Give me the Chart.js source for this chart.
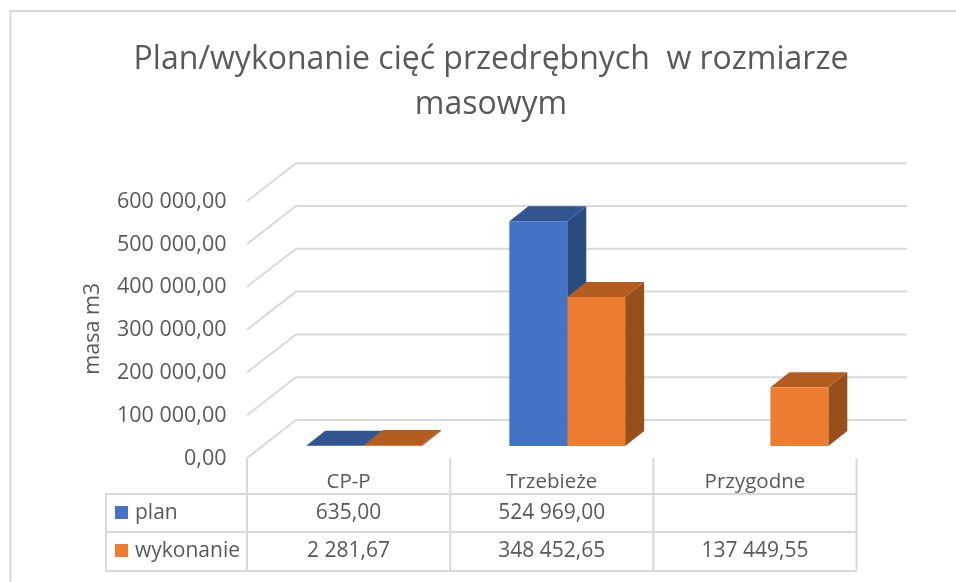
<!DOCTYPE html>
<html><head><meta charset="utf-8">
<style>html,body{margin:0;padding:0;background:#fff}#w{position:relative;width:956px;height:582px}</style>
<script src="https://cdn.jsdelivr.net/npm/chart.js@4"></script>
</head><body><div id="w"><canvas id="c" width="956" height="582"></canvas></div>
<script>
const categories = ['CP-P', 'Trzebieże', 'Przygodne'];
const plan = [635.00, 524969.00, null];
const wykonanie = [2281.67, 348452.65, 137449.55];
const seriesNames = ['plan', 'wykonanie'];
const titleLines = ['Plan/wykonanie cięć przedrębnych  w rozmiarze', 'masowym'];
const axisTitle = 'masa m3    ';
const FONT = '"Open Sans", sans-serif';
const TEXT = '#595959', GRID = '#d9d9d9';
const FACE = ['#4472C4', '#ED7D31'], TOP = ['#325592', '#B35E20'], SIDE = ['#2A4A80', '#974F1B'];
const BAR_DEPTH = [19, 15];          // bar extrusion
const FRONT = [-15.5, 12], BACK = [33.5, -26]; // wall offsets from the bar plane
const TABLE = {left: 106, top: 494, r1: 532, bottom: 571, vtop: 458, rowMid: [513, 551]};

function fmt(v) {
  if (v === null || v === undefined) return '';
  const [i, d] = v.toFixed(2).split('.');
  return i.replace(/\B(?=(\d{3})+(?!\d))/g, ' ') + ',' + d;
}
function line(ctx, x1, y1, x2, y2) { ctx.beginPath(); ctx.moveTo(x1, y1); ctx.lineTo(x2, y2); ctx.stroke(); }
function poly(ctx, pts, color) {
  ctx.fillStyle = color; ctx.beginPath();
  pts.forEach((p, i) => i ? ctx.lineTo(p[0], p[1]) : ctx.moveTo(p[0], p[1]));
  ctx.closePath(); ctx.fill();
}

const frame3d = {
  id: 'frame3d',
  afterLayout(chart) { chart.titleBlock.left = 110; chart.titleBlock.right = 872; },
  beforeDatasetsDraw(chart) {
    const ctx = chart.ctx, y = chart.scales.y, a = chart.chartArea;
    ctx.save();
    ctx.strokeStyle = GRID; ctx.lineWidth = 2;
    ctx.beginPath(); ctx.moveTo(10.5, 582); ctx.lineTo(10.5, 11); ctx.lineTo(956, 11); ctx.stroke();
    y.ticks.forEach(t => {
      const p = y.getPixelForValue(t.value);
      ctx.beginPath();
      ctx.moveTo(a.left + FRONT[0], p + FRONT[1]);
      ctx.lineTo(a.left + BACK[0], p + BACK[1]);
      ctx.lineTo(a.right + BACK[0] + 1.5, p + BACK[1]);
      ctx.stroke();
    });
    chart.data.datasets.forEach((ds, di) => {
      chart.getDatasetMeta(di).data.forEach((b, i) => {
        if (ds.data[i] === null) return;
        const l = b.x - b.width / 2, r = b.x + b.width / 2, t = b.y, bo = b.base;
        const [dx, dy] = BAR_DEPTH;
        poly(ctx, [[r, t], [r + dx, t - dy], [r + dx, bo - dy], [r, bo]], SIDE[di]);
        poly(ctx, [[l, t], [l + dx, t - dy], [r + dx, t - dy], [r, t]], TOP[di]);
      });
    });
    ctx.restore();
  },
  afterDraw(chart) {
    const ctx = chart.ctx, a = chart.chartArea, x = chart.scales.x;
    const T = TABLE, rows = [plan, wykonanie];
    const columns = categories.map((c, i) => x.getPixelForTick(i) + FRONT[0]);
    const step = (a.right - a.left) / categories.length;
    const edges = [a.left + FRONT[0]];
    categories.forEach((c, i) => edges.push(a.left + FRONT[0] + step * (i + 1)));
    ctx.save();
    ctx.strokeStyle = GRID; ctx.lineWidth = 2;
    edges.forEach(e => line(ctx, e, T.vtop, e, T.bottom));
    line(ctx, T.left, T.top, edges[3], T.top);
    line(ctx, T.left, T.r1, edges[3], T.r1);
    line(ctx, T.left, T.bottom, edges[3], T.bottom);
    line(ctx, T.left, T.top - 1, T.left, T.bottom + 1);
    ctx.fillStyle = TEXT; ctx.font = '21px ' + FONT; ctx.textBaseline = 'middle';
    rows.forEach((row, r) => {
      ctx.textAlign = 'center';
      row.forEach((v, i) => ctx.fillText(fmt(v), columns[i], T.rowMid[r]));
      ctx.fillStyle = FACE[r];
      ctx.fillRect(115, T.rowMid[r] - 7, 13, 13);
      ctx.fillStyle = TEXT; ctx.textAlign = 'left';
      ctx.fillText(seriesNames[r], 135, T.rowMid[r]);
    });
    ctx.restore();
  }
};

new Chart(document.getElementById('c'), {
  type: 'bar',
  data: {
    labels: categories,
    datasets: [
      {label: seriesNames[0], data: plan, backgroundColor: FACE[0]},
      {label: seriesNames[1], data: wykonanie, backgroundColor: FACE[1]}
    ]
  },
  plugins: [frame3d],
  options: {
    responsive: false, animation: false,
    layout: {padding: {left: 0, right: 84, top: 0, bottom: 0}},
    categoryPercentage: 0.57, barPercentage: 1,
    plugins: {
      legend: {display: false}, tooltip: {enabled: false},
      title: {display: true, text: titleLines, color: TEXT,
        font: {family: FONT, size: 32, weight: 'normal', lineHeight: 1.41}, padding: {top: 37, bottom: 62}}
    },
    scales: {
      x: {
        afterFit(s) { s.height = 136; },
        grid: {display: false}, border: {display: false},
        ticks: {color: TEXT, font: {family: FONT, size: 20.5}, padding: 16, labelOffset: -15.5, maxRotation: 0, autoSkip: false}
      },
      y: {
        min: 0, max: 600000,
        afterFit(s) { s.width = 262.5; },
        grid: {display: false, drawTicks: false}, border: {display: false},
        title: {display: true, text: axisTitle, color: TEXT, font: {family: FONT, size: 21.5}, padding: {top: 80, bottom: 0}},
        ticks: {color: TEXT, font: {family: FONT, size: 21.5}, padding: 36, labelOffset: 12.5, stepSize: 100000, callback: v => fmt(v)}
      }
    }
  }
});
</script></body></html>
